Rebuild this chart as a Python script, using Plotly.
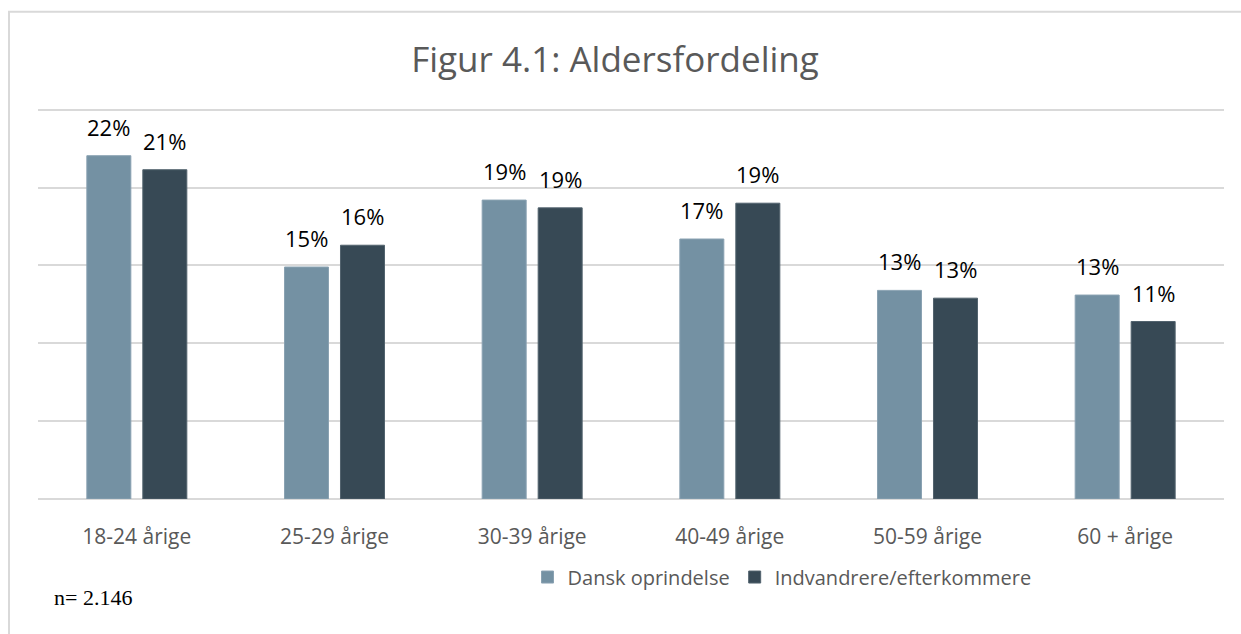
import plotly.graph_objects as go

categories = ["18-24 årige", "25-29 årige", "30-39 årige", "40-49 årige", "50-59 årige", "60 + årige"]
dansk = [22.05, 14.9, 19.2, 16.7, 13.4, 13.1]
indv = [21.15, 16.3, 18.7, 19.0, 12.9, 11.4]
dansk_labels = ["22%", "15%", "19%", "17%", "13%", "13%"]
indv_labels = ["21%", "16%", "19%", "19%", "13%", "11%"]

W, H = 1241, 634
YMAX = 25.5
# plot area in pixels: 0 at y=499, 25 at y=110
SX0, SX1, SY1 = 38, 1224, 499
SY0 = SY1 - (SY1 - 110) * YMAX / 25.0
L, R, T, B = SX0, W - SX1, SY0, H - SY1


def px_x(sx):
    return (sx - SX0) / (SX1 - SX0)


def px_y(sy):
    return (SY1 - sy) / (SY1 - SY0)


fig = go.Figure()
fig.add_trace(go.Bar(
    name="Dansk oprindelse", x=categories, y=dansk,
    marker=dict(color="#7491A3", line=dict(color="#8AA2B2", width=1)),
    hoverinfo="x+y",
))
fig.add_trace(go.Bar(
    name="Indvandrere/efterkommere", x=categories, y=indv,
    marker=dict(color="#374955", line=dict(color="#52636E", width=1)),
    hoverinfo="x+y",
))

for vals, labs, shift in ((dansk, dansk_labels, -28), (indv, indv_labels, 28)):
    for c, v, t in zip(categories, vals, labs):
        fig.add_annotation(x=c, y=v, xref="x", yref="y", text=t, showarrow=False,
                           xanchor="center", yanchor="bottom", xshift=shift, yshift=12,
                           font=dict(family="Open Sans", size=22, color="#000000"))

fig.update_layout(
    width=W, height=H,
    margin=dict(l=L, r=R, t=T, b=B),
    paper_bgcolor="white", plot_bgcolor="white",
    barmode="group", bargap=0.4335, bargroupgap=0.214,
    title=dict(text="Figur 4.1: Aldersfordeling", x=615 / W, xanchor="center",
               y=1 - 60 / H, yanchor="middle",
               font=dict(family="Open Sans", size=35, color="#595959")),
    showlegend=True,
    legend=dict(orientation="h", x=px_x(782), xanchor="center", y=px_y(577), yanchor="middle",
                font=dict(family="Open Sans", size=20, color="#595959"),
                traceorder="normal", itemwidth=30),
    xaxis=dict(showgrid=False, showline=False, ticks="", ticklabelstandoff=23,
               tickfont=dict(family="Open Sans", size=21, color="#595959")),
    yaxis=dict(range=[0, YMAX], tickvals=[0, 5, 10, 15, 20, 25], showticklabels=False,
               showgrid=True, gridcolor="#D9D9D9", gridwidth=1.5, zeroline=True,
               zerolinecolor="#D9D9D9", zerolinewidth=1.5, showline=False),
)

fig.add_shape(type="rect", xref="paper", yref="paper",
              x0=px_x(9), x1=px_x(2500), y0=px_y(1500), y1=px_y(12),
              line=dict(color="#D9D9D9", width=2), fillcolor="rgba(0,0,0,0)", layer="below")

fig.add_annotation(text="n= 2.146", xref="paper", yref="paper",
                   x=px_x(52), y=px_y(597), xanchor="left", yanchor="middle",
                   showarrow=False,
                   font=dict(family="Liberation Serif", size=22, color="#000000"))

fig.write_html("out.html", config={"displayModeBar": False},
               post_script="document.body.style.margin='0';document.body.style.overflow='hidden';")
